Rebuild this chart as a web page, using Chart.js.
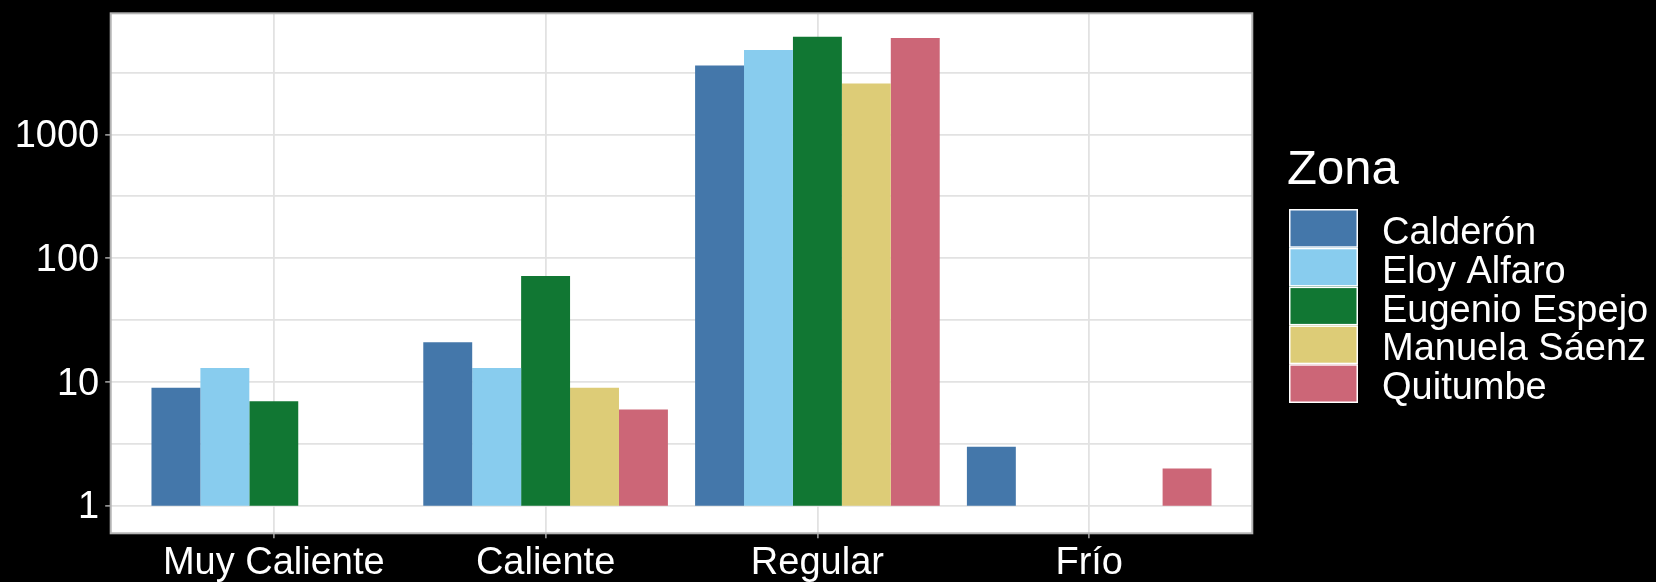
<!DOCTYPE html>
<html>
<head>
<meta charset="utf-8">
<script src="https://cdn.jsdelivr.net/npm/chart.js@4/dist/chart.umd.min.js"></script>
<style>
  html, body { margin: 0; padding: 0; background: #000; }
  canvas { display: block; }
</style>
</head>
<body>
<canvas id="chart" width="1656" height="582"></canvas>
<script>
// Thermal comfort category counts per administrative zone (log10 scale)
const categories = ['Muy Caliente', 'Caliente', 'Regular', 'Frío'];
const zones = ['Calderón', 'Eloy Alfaro', 'Eugenio Espejo', 'Manuela Sáenz', 'Quitumbe'];
const calderon      = [9, 21, 3600, 3];
const eloyAlfaro    = [13, 13, 4800, null];
const eugenioEspejo = [7, 72, 6150, null];
const manuelaSaenz  = [null, 9, 2580, null];
const quitumbe      = [null, 6, 6000, 2];
const zoneColors = ['#4477AA', '#88CCEE', '#117733', '#DDCC77', '#CC6677'];

const yTickValues = [1, 10, 100, 1000];
const yTickLabels = ['1', '10', '100', '1000'];
const yMinorBreaks = [3.162, 31.62, 316.2, 3162];

const seriesValues = [calderon, eloyAlfaro, eugenioEspejo, manuelaSaenz, quitumbe];

const FONT = '"Liberation Sans", Arial, sans-serif';
const GRID = '#E2E2E2';
const FRAME = '#B3B3B3';

// Bars rise from 1 on the log axis; missing combinations are left out.
const datasets = zones.map((zone, i) => ({
  label: zone,
  backgroundColor: zoneColors[i],
  borderWidth: 0,
  data: seriesValues[i]
    .map((v, j) => (v == null ? null : { x: j + 1, y: [1, v] }))
    .filter(p => p !== null)
}));

// Padding of 5% of the log range on both ends of the value axis
const logMax = Math.log10(Math.max(...seriesValues.flat().filter(v => v != null)));
const yMin = Math.pow(10, -0.05 * logMax);
const yMax = Math.pow(10, logMax * 1.05);

const panelPlugin = {
  id: 'panel',
  beforeDraw(chart) {
    const { ctx, chartArea: a } = chart;
    ctx.save();
    ctx.fillStyle = '#000';
    ctx.fillRect(0, 0, chart.width, chart.height);
    ctx.fillStyle = '#fff';
    ctx.fillRect(a.left, a.top, a.right - a.left, a.bottom - a.top);
    ctx.restore();
  },
  afterDraw(chart) {
    const { ctx, chartArea: a } = chart;
    ctx.save();
    ctx.strokeStyle = FRAME;
    ctx.lineWidth = 2;
    ctx.strokeRect(a.left, a.top, a.right - a.left, a.bottom - a.top);
    ctx.restore();
  }
};

const legendPlugin = {
  id: 'zoneLegend',
  afterDraw(chart) {
    const { ctx } = chart;
    const x0 = 1289, keyW = 69, keyH = 38.8, top0 = 209;
    ctx.save();
    ctx.fillStyle = '#fff';
    ctx.font = '49px ' + FONT;
    ctx.textBaseline = 'alphabetic';
    ctx.textAlign = 'left';
    ctx.fillText('Zona', 1287, 183.5);
    ctx.font = '38px ' + FONT;
    chart.data.datasets.forEach((ds, i) => {
      const y = top0 + i * keyH;
      ctx.fillStyle = ds.backgroundColor;
      ctx.fillRect(x0, y, keyW, keyH);
      ctx.strokeStyle = '#fff';
      ctx.lineWidth = 1.5;
      ctx.strokeRect(x0 + 0.75, y + 0.75, keyW - 1.5, keyH - 1.5);
      ctx.fillStyle = '#fff';
      ctx.fillText(ds.label, 1382, y + 35);
    });
    ctx.restore();
  }
};

new Chart(document.getElementById('chart'), {
  type: 'bar',
  data: { datasets },
  plugins: [panelPlugin, legendPlugin],
  options: {
    responsive: false,
    devicePixelRatio: 1,
    animation: false,
    layout: { padding: { left: 0, top: 13.3, right: 403.7, bottom: 0 } },
    datasets: { bar: { categoryPercentage: 0.9, barPercentage: 1.0 } },
    plugins: { legend: { display: false }, tooltip: { enabled: false } },
    scales: {
      x: {
        type: 'linear',
        min: 0.4,
        max: 4.6,
        offset: false,
        afterBuildTicks(scale) {
          scale.ticks = categories.map((c, i) => ({ value: i + 1 }));
        },
        afterFit(scale) {
          scale.height = 48.7;
          scale.paddingLeft = 0;
          scale.paddingRight = 0;
        },
        ticks: {
          color: '#fff',
          font: { family: FONT, size: 38 },
          padding: 2.5,
          maxRotation: 0,
          autoSkip: false,
          callback: (v) => categories[Math.round(v) - 1]
        },
        grid: {
          offset: false,
          color: GRID,
          lineWidth: 1.8,
          tickLength: 5,
          tickColor: FRAME,
          tickWidth: 1.4
        },
        border: { display: false }
      },
      y: {
        type: 'logarithmic',
        min: yMin,
        max: yMax,
        afterBuildTicks(scale) {
          scale.ticks = [...yTickValues, ...yMinorBreaks]
            .sort((a, b) => a - b)
            .map(v => ({ value: v }));
        },
        afterFit(scale) {
          scale.width = 110.7;
          scale.paddingTop = 0;
          scale.paddingBottom = 0;
        },
        ticks: {
          color: '#fff',
          font: { family: FONT, size: 38 },
          padding: 6,
          labelOffset: 2,
          autoSkip: false,
          callback: (v) => {
            const k = yTickValues.indexOf(v);
            return k >= 0 ? yTickLabels[k] : '';
          }
        },
        grid: {
          color: GRID,
          lineWidth: 1.8,
          tickLength: 5.5,
          tickColor: (ctx) => (yTickValues.includes(ctx.tick && ctx.tick.value) ? FRAME : 'rgba(0,0,0,0)'),
          tickWidth: 1.4
        },
        border: { display: false }
      }
    }
  }
});
</script>
</body>
</html>
